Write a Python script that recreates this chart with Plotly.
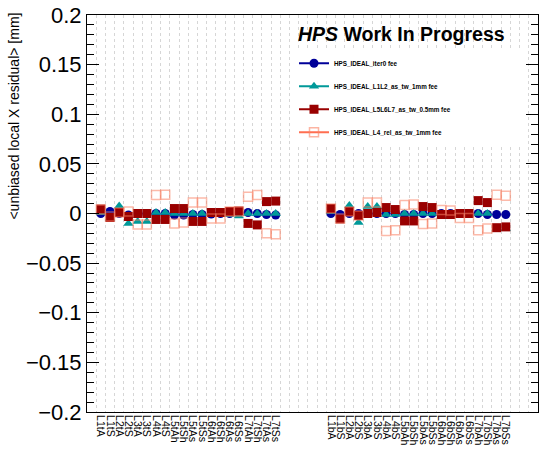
import plotly.graph_objects as go

# Sensor labels: top half then bottom half
labels_top = ["L1tA", "L1tS", "L2tA", "L2tS", "L3tA", "L3tS", "L4tA", "L4tS",
              "L5tAh", "L5tSh", "L5tAs", "L5tSs", "L6tAh", "L6tSh", "L6tAs", "L6tSs",
              "L7tAh", "L7tSh", "L7tAs", "L7tSs"]
labels_bot = ["L1bA", "L1bS", "L2bA", "L2bS", "L3bA", "L3bS", "L4bA", "L4bS",
              "L5bAh", "L5bSh", "L5bAs", "L5bSs", "L6bAh", "L6bSh", "L6bAs", "L6bSs",
              "L7bAh", "L7bSh", "L7bAs", "L7bSs"]

# Histogram bin layout (49 bins, labelled ones hold the sensors)
n_bins = 49
top_first_bin = 1
bot_first_bin = 26

# Mean unbiased local X residual [mm] per sensor
iter0_top = [0.000, 0.002, 0.000, -0.0015, 0.000, 0.000, 0.000, 0.000, -0.0015, -0.0015,
             -0.001, -0.001, -0.0005, 0.000, 0.000, 0.001, 0.001, 0.000, -0.001, -0.0015]
iter0_bot = [0.000, -0.001, 0.000, 0.000, 0.000, 0.000, 0.000, 0.000, -0.001, -0.001,
             0.000, 0.000, 0.000, 0.000, 0.000, 0.000, 0.000, -0.001, -0.001, -0.001]

l1l2_top = [0.001, -0.005, 0.0075, -0.010, -0.008, -0.008, 0.001, 0.001, 0.000, 0.000,
            0.000, 0.000, 0.000, 0.000, -0.001, -0.0025, 0.000, 0.000, 0.000, 0.000]
l1l2_bot = [0.002, -0.006, 0.008, -0.009, 0.007, 0.007, -0.001, -0.001, 0.000, 0.000,
            0.000, 0.000, -0.003, -0.003, -0.001, -0.001, 0.000, 0.000, -0.015, -0.015]

l567_top = [0.0045, -0.004, 0.001, -0.003, 0.000, 0.000, -0.006, -0.006, 0.005, 0.005,
            -0.008, -0.008, 0.001, 0.001, 0.002, 0.0025, -0.010, -0.0115, 0.012, 0.0125]
l567_bot = [0.005, -0.0055, 0.002, -0.002, 0.000, 0.001, 0.006, 0.004, -0.0075, -0.0075,
            0.007, 0.006, -0.001, -0.001, 0.000, 0.000, 0.013, 0.011, -0.0143, -0.0135]

l4_top = [0.004, -0.003, 0.001, 0.002, -0.011, -0.011, 0.0186, 0.019, -0.010, -0.009,
          0.011, 0.011, -0.005, -0.005, 0.002, 0.002, 0.017, 0.0187, -0.020, -0.021]
l4_bot = [0.005, -0.005, 0.002, -0.002, 0.011, 0.011, -0.0176, -0.017, 0.0085, 0.009,
          -0.0106, -0.010, 0.0035, 0.003, -0.0045, -0.0045, -0.017, -0.015, 0.019, 0.018]

series_names = ["HPS_IDEAL_iter0 fee", "HPS_IDEAL_L1L2_as_tw_1mm fee",
                "HPS_IDEAL_L5L6L7_as_tw_0.5mm fee", "HPS_IDEAL_L4_rel_as_tw_1mm fee"]

x_top = list(range(top_first_bin, top_first_bin + len(labels_top)))
x_bot = list(range(bot_first_bin, bot_first_bin + len(labels_bot)))
x_all = x_top + x_bot
tick_vals = x_all
tick_text = labels_top + labels_bot

styles = [
    dict(symbol="circle", size=9, color="#000099", line=dict(width=0)),
    dict(symbol="triangle-up", size=9, color="#009999", line=dict(width=0)),
    dict(symbol="square", size=9, color="#990000", line=dict(width=0)),
    dict(symbol="square-open", size=9, color="rgba(250,130,100,0.55)", line=dict(width=1.5)),
]
legend_line_colors = ["#000099", "#009999", "#990000", "#ff6e50"]
legend_marker_colors = ["#000099", "#009999", "#990000", "rgba(250,130,100,0.6)"]
values = [iter0_top + iter0_bot, l1l2_top + l1l2_bot,
          l567_top + l567_bot, l4_top + l4_bot]

fig = go.Figure()
for i, (name, vals, st) in enumerate(zip(series_names, values, styles)):
    fig.add_trace(go.Scatter(x=x_all, y=vals, mode="markers", marker=st,
                             showlegend=False, legendgroup=f"g{i}", hoverinfo="skip"))
    leg_marker = dict(st)
    leg_marker["color"] = legend_marker_colors[i]
    fig.add_trace(go.Scatter(x=[None], y=[None], mode="lines+markers", name=name,
                             legendgroup=f"g{i}",
                             line=dict(color=legend_line_colors[i], width=2),
                             marker=leg_marker))

font_family = "Liberation Sans, Arial, Helvetica, sans-serif"

fig.update_layout(
    width=545, height=452,
    margin=dict(l=87, r=7, t=15, b=40),
    paper_bgcolor="white", plot_bgcolor="white",
    font=dict(family=font_family, color="black"),
    showlegend=True,
    legend=dict(x=0.459, xanchor="left", y=0.915, yanchor="top",
                bgcolor="rgba(255,255,255,0)", borderwidth=0,
                traceorder="grouped", tracegroupgap=4,
                font=dict(size=6.3, family=font_family, weight="bold")),
    xaxis=dict(range=[-0.5, n_bins - 0.5], tickmode="array", automargin=False,
               tickvals=tick_vals, ticktext=tick_text, tickangle=90,
               tickfont=dict(size=10.5), ticks="", showgrid=False, zeroline=False,
               showline=True, linecolor="black", linewidth=1, mirror=True,
               minor=dict(tick0=0.5, dtick=1, showgrid=True, gridcolor="#d6d6d6",
                          griddash="dot", gridwidth=1, ticks="")),
    yaxis=dict(range=[-0.2, 0.2], dtick=0.05, tick0=0, ticks="inside", ticklen=12,
               automargin=False,
               tickcolor="black", tickfont=dict(size=22), showgrid=False, zeroline=False,
               showline=True, linecolor="black", linewidth=1, mirror="ticks",
               minor=dict(dtick=0.01, ticks="inside", ticklen=7, tickcolor="black")),
)

# white panel behind the legend (in bin / residual units)
fig.add_shape(type="rect", xref="x", yref="y",
              x0=21.8, x1=46.6, y0=0.067, y1=0.165,
              fillcolor="white", line=dict(width=0), layer="between")

fig.add_annotation(text="<b><i>HPS</i> Work In Progress</b>", xref="paper", yref="paper",
                   x=0.9313, y=0.951, xanchor="right", yanchor="middle", showarrow=False,
                   font=dict(size=19.5, family=font_family, color="black"))

fig.add_annotation(text="<unbiased local X residual> [mm]", xref="paper", yref="paper",
                   x=-0.164, y=1.01, xanchor="center", yanchor="top", textangle=-90,
                   showarrow=False, font=dict(size=14, family=font_family, color="black"))

fig.write_html("out.html")
